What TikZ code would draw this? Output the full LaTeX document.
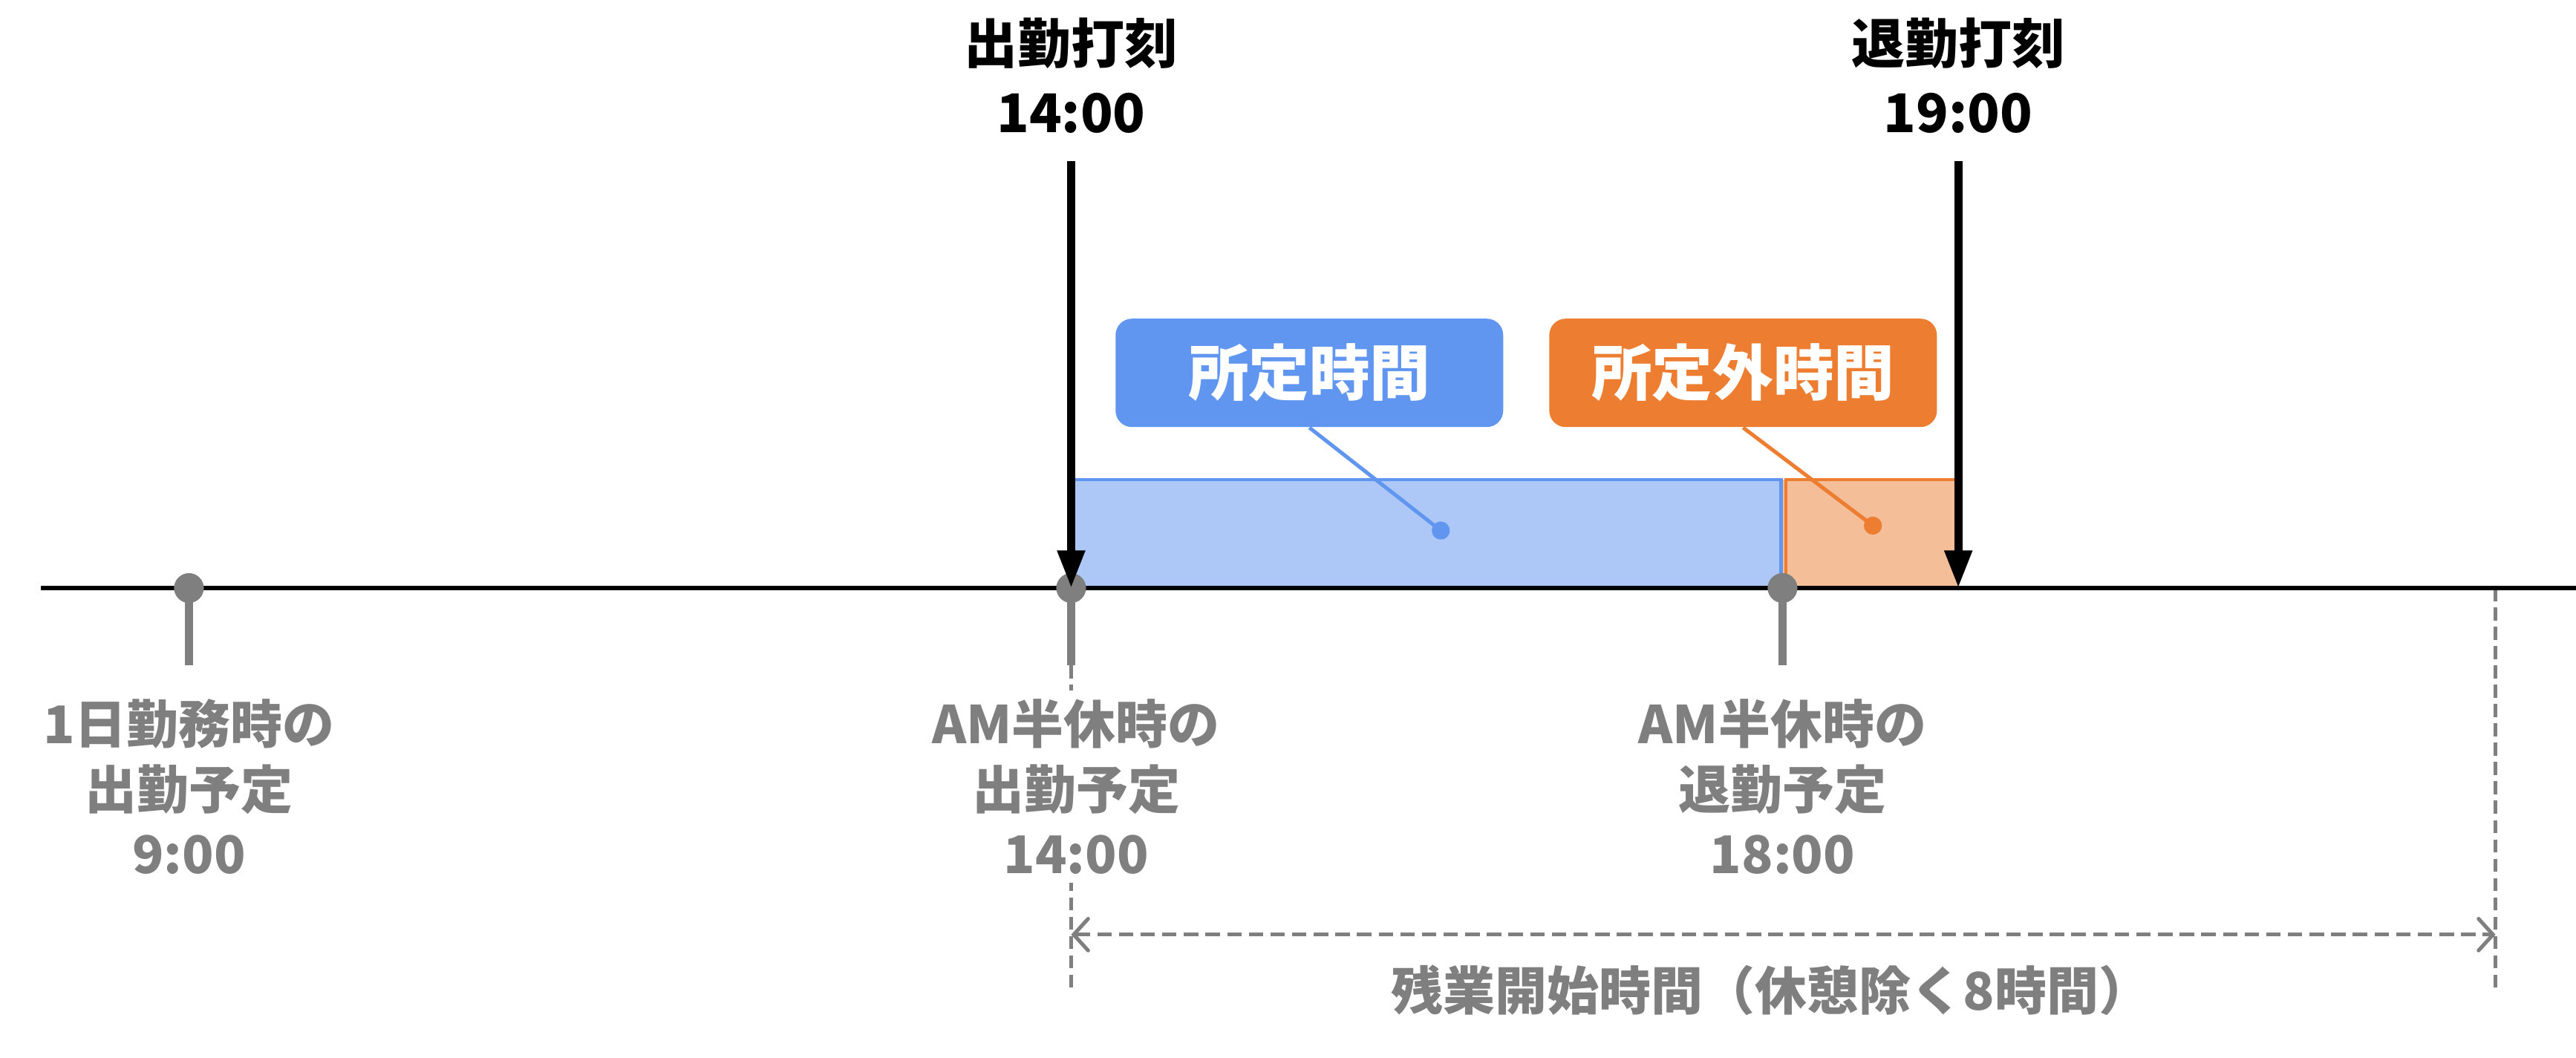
\documentclass[tikz,border=0pt]{standalone}
\usepackage{fontspec}
\usetikzlibrary{arrows.meta}
\newfontfamily\jp{Noto Sans CJK JP}
\definecolor{gry}{HTML}{7F7F7F}
\definecolor{bbox}{HTML}{6096F0}
\definecolor{lblue}{HTML}{ADC8F6}
\definecolor{obox}{HTML}{ED7D31}
\definecolor{lorange}{HTML}{F4BE98}
\begin{document}
\begin{tikzpicture}[x=0.02cm,y=-0.02cm,
  toplab/.style={text=black,font=\jp\bfseries\fontsize{18.5}{24}\selectfont,align=center,inner sep=0pt},
  graylab/.style={text=gry,font=\jp\bfseries\fontsize{18}{22.5}\selectfont,align=center,fill=white,inner sep=3pt},
  tagbox/.style={rounded corners=0.2cm,minimum width=4.72cm,minimum height=1.32cm,text=white,font=\jp\bfseries\fontsize{21}{24}\selectfont,inner sep=0pt},
  pinstem/.style={draw=gry,line width=2.8pt},
  pindot/.style={circle,fill=gry,minimum size=0.36cm,inner sep=0pt},
  stamp/.style={line width=2.8pt,-{Triangle[width=9pt,length=13pt]}},
  guide/.style={draw=gry,line width=1.3pt,dash pattern=on 4.5pt off 2.2pt},
  callout/.style={line width=1.3pt},
  calldot/.style={circle,minimum size=0.22cm,inner sep=0pt}
]
\useasboundingbox (0,0) rectangle (1568,644);

% bars
\fill[lblue] (652,292) rectangle (1085,358);
\fill[lorange] (1085,292) rectangle (1192,358);
\draw[bbox,line width=1.2pt] (654,292) -- (1084,292) -- (1084,358);
\draw[obox,line width=1.2pt] (1087,358) -- (1087,292) -- (1192,292);

% dashed guides
\coordinate (g1t) at (652,358);
\coordinate (g1b) at (652,605);
\coordinate (g2t) at (1519,358);
\coordinate (g2b) at (1519,605);
\draw[guide] (g1t) -- (g1b);
\draw[guide] (g2t) -- (g2b);
\coordinate (ha) at (652,569);
\coordinate (hb) at (1519,569);
\draw[guide,{Straight Barb[length=5pt,width=11pt,line cap=round]}-{Straight Barb[length=5pt,width=11pt,line cap=round]},dash pattern=on 5pt off 2.5pt] (ha) -- (hb);

% axis
\coordinate (axl) at (25,358);
\coordinate (axr) at (1568,358);
\draw[line width=1.6pt] (axl) -- (axr);

% pins
\coordinate (s1) at (115,405);
\coordinate (s2) at (652,405);
\coordinate (s3) at (1085,405);
\node[pindot] (p1) at (115,358) {};
\node[pindot] (p2) at (652,358) {};
\node[pindot] (p3) at (1085,358) {};
\draw[pinstem] (p1.center) -- (s1);
\draw[pinstem] (p2.center) -- (s2);
\draw[pinstem] (p3.center) -- (s3);
\node[pindot] at (p1) {};
\node[pindot] at (p2) {};
\node[pindot] at (p3) {};

% gray labels
\node[graylab] (l1) at (115,479) {1日勤務時の\\出勤予定\\9:00};
\node[graylab] (l2) at (655,479) {AM半休時の\\出勤予定\\14:00};
\node[graylab] (l3) at (1085,479) {AM半休時の\\退勤予定\\18:00};
\node[graylab,fill=none] (ot) at (1078,603) {残業開始時間（休憩除く8時間）};

% stamps
\node[toplab] (in) at (652,46) {出勤打刻\\14:00};
\node[toplab] (out) at (1192,46) {退勤打刻\\19:00};
\coordinate (a1) at (652,98);
\coordinate (a2) at (1192,98);
\coordinate (e2) at (1192,358);
\draw[stamp] (a1) -- (p2.center);
\draw[stamp] (a2) -- (e2);

% tags
\node[tagbox,fill=bbox] (tb) at (797,227) {所定時間};
\node[tagbox,fill=obox] (to) at (1061,227) {所定外時間};
\node[calldot,fill=bbox] (db) at (877,323) {};
\node[calldot,fill=obox] (do) at (1140,320) {};
\draw[callout,bbox] (tb.south) -- (db.center);
\draw[callout,obox] (to.south) -- (do.center);
\end{tikzpicture}
\end{document}
